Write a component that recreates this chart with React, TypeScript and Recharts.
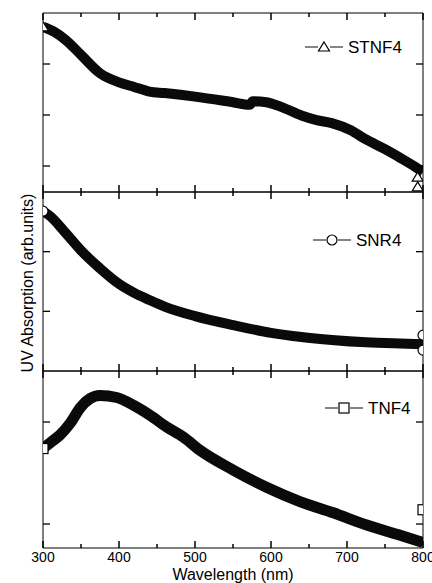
import React from "react";
import { ComposedChart, Line, Scatter, XAxis, YAxis } from "recharts";

const FONT = "'Liberation Sans', Arial, Helvetica, sans-serif";

// wavelength ticks (nm)
const xTicks = [300, 350, 400, 450, 500, 550, 600, 650, 700, 750, 800];

// STNF4 (top panel)
const stnf4Wavelength = [300, 315, 330, 350, 375, 400, 420, 440, 460, 500, 550, 572, 576, 594, 615, 640, 660, 680, 705, 725, 750, 770, 790, 800];
const stnf4Absorption = [3.73, 3.63, 3.47, 3.18, 2.82, 2.64, 2.55, 2.46, 2.43, 2.36, 2.25, 2.2, 2.27, 2.25, 2.15, 1.99, 1.9, 1.84, 1.7, 1.52, 1.33, 1.16, 0.98, 0.88];
const stnf4EdgeWavelength = [793, 793];
const stnf4EdgeAbsorption = [0.78, 0.59];

// SNR4 (middle panel)
const snr4Wavelength = [300, 310, 330, 350, 375, 400, 420, 440, 460, 500, 550, 600, 640, 680, 725, 770, 800];
const snr4Absorption = [2.68, 2.59, 2.31, 2.02, 1.72, 1.46, 1.31, 1.19, 1.08, 0.92, 0.77, 0.64, 0.57, 0.52, 0.48, 0.46, 0.45];
const snr4EdgeWavelength = [800, 800];
const snr4EdgeAbsorption = [0.6, 0.35];

// TNF4 (bottom panel)
const tnf4Wavelength = [300, 310, 322, 336, 349, 362, 375, 397, 420, 440, 463, 485, 507, 550, 594, 638, 682, 726, 770, 800];
const tnf4Absorption = [1.74, 1.8, 1.87, 1.99, 2.14, 2.23, 2.26, 2.24, 2.16, 2.07, 1.95, 1.85, 1.72, 1.53, 1.36, 1.22, 1.11, 0.99, 0.89, 0.82];
const tnf4EdgeWavelength = [800];
const tnf4EdgeAbsorption = [1.14];

const zip = (xs: number[], ys: number[]) => xs.map((x, i) => ({ x, y: ys[i] }));

type MarkerKind = "triangle" | "circle" | "square";

const Marker = ({ kind, cx, cy, r = 5 }: { kind: MarkerKind; cx: number; cy: number; r?: number }) => {
  const common = { fill: "#fff", stroke: "#000", strokeWidth: 1.2 };
  if (kind === "circle") return <circle cx={cx} cy={cy} r={r} {...common} />;
  if (kind === "square") return <rect x={cx - r} y={cy - r} width={2 * r} height={2 * r} {...common} />;
  return (
    <path
      d={`M${cx},${cy - r} L${cx + r * 1.1},${cy + r * 0.8} L${cx - r * 1.1},${cy + r * 0.8} Z`}
      {...common}
    />
  );
};

const BottomTick = (props: any) => {
  const { x, y, payload, showLabel } = props;
  const major = payload.value % 100 === 0;
  return (
    <g>
      <line x1={x} x2={x} y1={y} y2={y - (major ? 7 : 4)} stroke="#000" strokeWidth={1.5} />
      {showLabel && major && (
        <text x={x} y={y + 14} textAnchor="middle" fontSize={14} fontFamily={FONT} fill="#000">
          {payload.value}
        </text>
      )}
    </g>
  );
};

const TopTick = (props: any) => {
  const { x, y, payload } = props;
  const major = payload.value % 100 === 0;
  return (
    <g>
      <line x1={x} x2={x} y1={y} y2={y + (major ? 7 : 4)} stroke="#000" strokeWidth={1.5} />
    </g>
  );
};

const LeftTick = (props: any) => {
  const { x, y } = props;
  return (
    <g>
      <line x1={x} x2={x + 7} y1={y} y2={y} stroke="#000" strokeWidth={1.3} />
    </g>
  );
};

const RightTick = (props: any) => {
  const { x, y } = props;
  return (
    <g>
      <line x1={x} x2={x - 7} y1={y} y2={y} stroke="#000" strokeWidth={1.3} />
    </g>
  );
};

interface PanelProps {
  data: { x: number; y: number }[];
  edge: { x: number; y: number }[];
  domain: [number, number];
  yTicks: number[];
  kind: MarkerKind;
  top: number;
  height: number;
  marginTop: number;
  bottomHeight: number;
  showLabels: boolean;
  bandWidth: number;
}

const Panel = ({ data, edge, domain, yTicks, kind, top, height, marginTop, bottomHeight, showLabels, bandWidth }: PanelProps) => (
  <div style={{ position: "absolute", left: 0, top }}>
    <ComposedChart width={432} height={height} data={data} margin={{ top: marginTop, right: 8, bottom: 0, left: 42 }}>
      <XAxis
        xAxisId="b"
        dataKey="x"
        type="number"
        domain={[300, 800]}
        ticks={xTicks}
        interval={0}
        allowDataOverflow
        height={bottomHeight}
        stroke="#000"
        tickLine={false}
        tickSize={0}
        tickMargin={0}
        tick={(p: any) => <BottomTick {...p} showLabel={showLabels} />}
      />
      <XAxis
        xAxisId="t"
        orientation="top"
        dataKey="x"
        type="number"
        domain={[300, 800]}
        ticks={xTicks}
        interval={0}
        allowDataOverflow
        height={1}
        stroke="#000"
        tickLine={false}
        tickSize={0}
        tickMargin={0}
        tick={(p: any) => <TopTick {...p} />}
      />
      <YAxis
        yAxisId="l"
        type="number"
        domain={domain}
        ticks={yTicks}
        interval={0}
        allowDataOverflow
        width={1}
        stroke="#000"
        tickLine={false}
        tickSize={0}
        tickMargin={0}
        tick={(p: any) => <LeftTick {...p} />}
      />
      <YAxis
        yAxisId="r"
        orientation="right"
        type="number"
        domain={domain}
        ticks={yTicks}
        interval={0}
        allowDataOverflow
        width={1}
        stroke="#000"
        tickLine={false}
        tickSize={0}
        tickMargin={0}
        tick={(p: any) => <RightTick {...p} />}
      />
      <Line
        xAxisId="b"
        yAxisId="l"
        dataKey="y"
        type="monotone"
        stroke="#0a0a0a"
        strokeWidth={bandWidth}
        isAnimationActive={false}
        dot={(p: any) =>
          p.index === 0 ? (
            <Marker key={`d${p.index}`} kind={kind} cx={p.cx} cy={p.cy} />
          ) : (
            <g key={`d${p.index}`} />
          )
        }
      />
      <Scatter
        xAxisId="b"
        yAxisId="l"
        data={edge}
        dataKey="y"
        isAnimationActive={false}
        shape={(p: any) => <Marker kind={kind} cx={p.cx} cy={p.cy} />}
      />
    </ComposedChart>
  </div>
);

const LegendItem = ({ x, y, kind, label }: { x: number; y: number; kind: MarkerKind; label: string }) => (
  <g>
    <line x1={x} x2={x + 13} y1={y} y2={y} stroke="#333" strokeWidth={1.2} />
    <Marker kind={kind} cx={x + 19} cy={y} r={5} />
    <line x1={x + 25} x2={x + 38} y1={y} y2={y} stroke="#333" strokeWidth={1.2} />
    <text x={x + 43} y={y + 6} fontSize={17} fontFamily={FONT} fill="#000">
      {label}
    </text>
  </g>
);

export default function App() {
  return (
    <div style={{ position: "absolute", left: 0, top: 0, width: 432, height: 583, background: "#fff", overflow: "hidden" }}>
      <Panel
        data={zip(stnf4Wavelength, stnf4Absorption)}
        edge={zip(stnf4EdgeWavelength, stnf4EdgeAbsorption)}
        domain={[0.49, 4]}
        yTicks={[1, 2, 3]}
        kind="triangle"
        top={0}
        height={193}
        marginTop={12}
        bottomHeight={1}
        showLabels={false}
        bandWidth={10}
      />
      <Panel
        data={zip(snr4Wavelength, snr4Absorption)}
        edge={zip(snr4EdgeWavelength, snr4EdgeAbsorption)}
        domain={[0, 3]}
        yTicks={[1, 2]}
        kind="circle"
        top={181}
        height={191}
        marginTop={10}
        bottomHeight={1}
        showLabels={false}
        bandWidth={10}
      />
      <Panel
        data={zip(tnf4Wavelength, tnf4Absorption)}
        edge={zip(tnf4EdgeWavelength, tnf4EdgeAbsorption)}
        domain={[0.765, 2.5]}
        yTicks={[1, 2]}
        kind="square"
        top={360}
        height={223}
        marginTop={10}
        bottomHeight={35}
        showLabels={true}
        bandWidth={11}
      />
      <svg width={432} height={583} style={{ position: "absolute", left: 0, top: 0, pointerEvents: "none" }}>
        <text
          transform="translate(27,283) rotate(-90)"
          textAnchor="middle"
          dominantBaseline="central"
          fontSize={16}
          fontFamily={FONT}
          fill="#000"
        >
          UV Absorption (arb.units)
        </text>
        <text x={233} y={580} textAnchor="middle" fontSize={16} fontFamily={FONT} fill="#000">
          Wavelength (nm)
        </text>
        <LegendItem x={305} y={47} kind="triangle" label="STNF4" />
        <LegendItem x={313} y={240} kind="circle" label="SNR4" />
        <LegendItem x={325} y={408} kind="square" label="TNF4" />
      </svg>
    </div>
  );
}
